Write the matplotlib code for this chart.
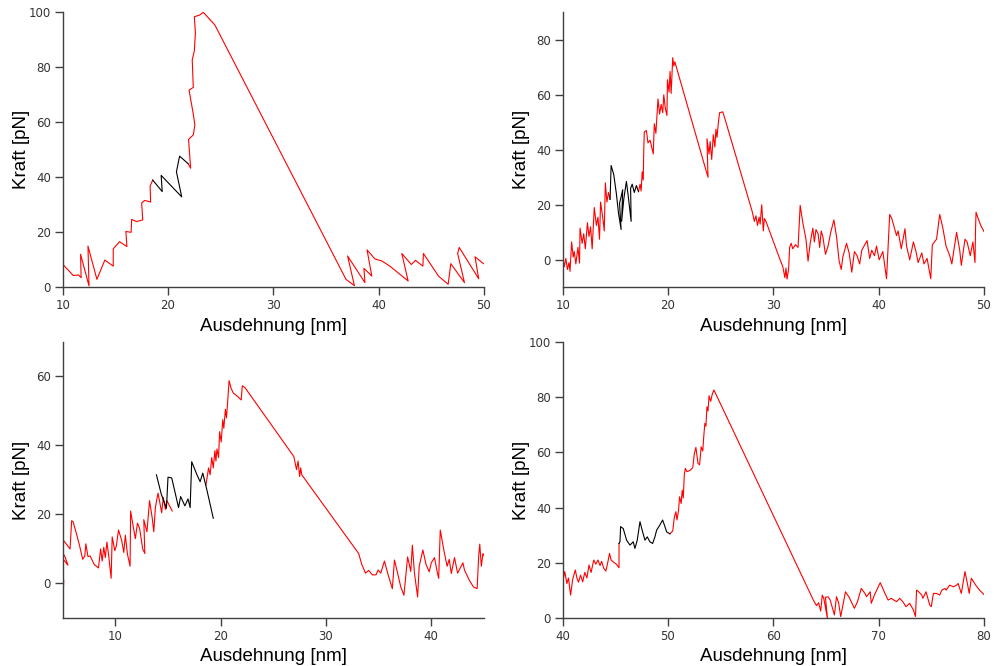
import matplotlib
matplotlib.use("Agg")
import matplotlib.pyplot as plt

# --- panel 1 (oben links) ---
p1_red1_x = [10.0, 11.0, 11.5, 11.75, 11.7, 12.5, 12.4, 13.25, 14.0, 14.8, 14.8, 15.4, 16.1, 16.0, 16.5, 16.55,
             17.0, 17.6, 17.5, 17.8, 18.35, 18.3, 18.55]
p1_red1_y = [8.4, 4.3, 4.5, 3.5, 12.0, 0.5, 15.0, 2.9, 9.9, 7.7, 14.0, 16.6, 14.8, 20.3, 20.0, 24.7,
             23.9, 24.5, 30.7, 31.6, 31.0, 36.8, 39.0]
p1_blk_x = [18.55, 19.45, 19.35, 21.3, 20.8, 21.1, 21.9]
p1_blk_y = [39.0, 34.8, 40.7, 32.9, 42.0, 47.7, 45.0]
p1_red2_x = [21.9, 22.15, 21.95, 22.4, 22.55, 22.4, 22.0, 22.4, 22.3, 22.5, 22.6, 22.5, 23.0, 23.35, 24.45,
             36.9, 37.7, 37.05, 38.7, 38.6, 39.35, 38.9, 39.65, 40.3, 41.1, 42.8, 42.2, 43.1, 43.5, 44.2,
             44.25, 45.7, 46.6, 46.85, 48.15, 47.5, 47.65, 49.5, 49.15, 49.95]
p1_red2_y = [45.0, 43.3, 53.8, 55.4, 59.0, 63.0, 71.7, 72.7, 82.7, 86.0, 92.5, 98.4, 99.0, 100.0, 95.4,
             2.9, 0.6, 11.4, 1.7, 6.9, 4.1, 13.6, 10.3, 9.6, 7.6, 2.3, 12.3, 8.3, 9.8, 7.7,
             12.3, 4.0, 1.1, 8.6, 1.7, 12.3, 14.5, 3.1, 11.1, 8.6]

# --- panel 2 (oben rechts) ---
p2_red1_x = [10.0, 10.15, 10.3, 10.45, 10.6, 10.7, 10.85, 11.0, 11.1, 11.25, 11.45, 11.6, 11.65, 11.85, 12.0,
             12.15, 12.35, 12.5, 12.65, 12.8, 13.0, 13.2, 13.35, 13.5, 13.6, 13.8, 13.95, 14.05, 14.2, 14.35,
             14.5]
p2_red1_y = [1.0, -2.5, 0.5, -3.5, -1.0, -4.2, 6.5, 1.0, 3.0, -1.5, 4.5, -1.2, 11.5, 6.0, 9.5,
             4.0, 13.5, 8.5, 12.0, 4.0, 19.0, 12.5, 15.5, 7.5, 21.0, 15.5, 10.5, 28.0, 21.0, 24.5,
             22.0]
p2_blk_x = [14.5, 14.6, 14.85, 15.1, 15.3, 15.55, 15.4, 15.7, 15.6, 15.8, 16.05, 16.2, 16.5, 16.45, 16.6,
            16.8, 17.0, 17.2]
p2_blk_y = [22.0, 34.3, 31.0, 24.0, 17.0, 11.0, 20.5, 25.5, 14.0, 22.0, 28.5, 24.0, 14.0, 26.0, 27.5,
            24.5, 27.0, 24.8]
p2_red2_x = [17.2, 17.35, 17.45, 17.55, 17.65, 17.7, 17.75, 17.95, 18.1, 18.3, 18.6, 18.7, 18.85, 19.05, 19.2,
             19.35, 19.5, 19.6, 19.75, 19.9, 19.95, 20.1, 20.2, 20.3, 20.45, 20.55, 20.65,
             23.8, 23.7, 23.9, 24.0, 24.15, 24.3, 24.45, 24.55, 24.65, 24.8, 24.9, 25.2, 25.35,
             28.0, 28.2, 28.35, 28.5, 28.65, 28.75, 28.9, 29.05, 29.15, 29.3,
             30.5, 30.9, 31.1, 31.2, 31.3, 31.45, 31.55, 31.7, 31.85, 32.1, 32.35, 32.55, 32.8, 33.1, 33.3,
             33.5, 33.75, 33.9, 34.05, 34.25, 34.4, 34.55, 34.7, 34.95, 35.2, 35.45, 35.75, 36.0, 36.25,
             36.45, 36.6, 36.95, 37.2, 37.45, 37.7, 37.95, 38.2, 38.4, 38.9, 39.15, 39.35, 39.6, 39.8,
             40.05, 40.4, 40.75, 41.05, 41.25, 41.7, 41.85, 42.15, 42.5, 42.65, 42.95, 43.3, 43.55, 43.75,
             44.1, 44.3, 44.6, 44.95, 45.1, 45.5, 45.8, 46.1, 46.4, 46.75, 46.95, 47.4, 47.7, 47.85, 48.2,
             48.4, 48.7, 48.95, 49.15, 49.2, 49.25, 49.45, 49.7, 50.0]
p2_red2_y = [24.8, 27.5, 25.0, 32.0, 29.0, 40.0, 46.5, 47.0, 42.5, 43.5, 38.5, 49.5, 46.0, 58.5, 53.0,
             56.5, 53.5, 60.0, 55.0, 52.5, 65.5, 61.0, 68.5, 60.5, 73.5, 70.5, 72.0,
             30.0, 44.0, 38.5, 43.0, 36.5, 45.5, 41.0, 47.5, 44.5, 50.5, 53.5, 53.8, 52.0,
             17.5, 14.0, 16.0, 12.5, 15.5, 13.0, 20.0, 10.5, 15.0, 14.0,
             1.5, -2.5, -6.5, -3.0, -7.0, -3.5, 4.5, 6.0, 4.0, 5.5, 4.5, 19.8, 13.5, 7.5, -0.5,
             6.0, 11.5, 6.5, 11.0, 9.5, 4.5, 10.5, 8.5, 2.0, 5.0, 10.0, 14.5, 8.5, -0.5,
             -3.5, 1.0, 6.0, 2.5, -4.5, 3.0, 1.5, -1.5, 3.5, 7.0, 0.5, 3.5, 1.5, 5.0,
             0.0, 3.0, -6.9, 16.5, 15.0, 8.8, 10.5, 4.0, 11.3, 5.0, 0.0, 6.5, 3.0, -1.0,
             2.5, -1.5, 0.5, -6.9, 5.5, 7.5, 16.5, 11.5, 5.0, 1.5, -1.5, 10.0, 3.5, -2.0, 7.5,
             6.5, 1.5, 6.5, -1.0, 11.0, 17.3, 15.0, 12.5, 10.3]

# --- panel 3 (unten links) ---
p3_red1_x = [4.8, 5.05, 5.1, 4.9, 5.0, 5.25, 5.5, 4.8, 5.0, 5.5, 5.7, 5.85, 6.0, 6.3, 6.6, 6.9, 7.1, 7.2, 7.4,
             7.6, 8.0, 8.4, 8.6, 8.75, 8.9, 9.05, 9.2, 9.35, 9.6, 9.7, 9.95, 10.1, 10.3, 10.6, 10.8, 10.95,
             11.15, 11.4, 11.45, 11.7, 11.9, 12.1, 12.3, 12.6, 12.8, 12.7, 13.0, 13.25, 13.5, 13.65, 13.8,
             14.05, 14.25, 14.4, 14.55, 14.75, 14.9, 15.4]
p3_red1_y = [5.0, -3.2, 0.8, 4.0, 9.0, 7.5, 5.3, 8.0, 12.8, 10.8, 10.0, 18.2, 17.8, 14.5, 11.0, 7.0, 8.0, 11.5, 7.8,
             8.0, 5.5, 4.5, 10.0, 6.5, 10.5, 7.5, 12.0, 8.5, 1.5, 13.5, 9.5, 11.0, 15.5, 12.5, 9.0, 14.0,
             8.5, 5.0, 21.0, 16.5, 13.0, 17.5, 16.0, 10.0, 8.7, 18.5, 15.0, 24.0, 19.0, 15.0, 22.0,
             26.2, 23.0, 20.5, 25.0, 21.5, 24.0, 21.0]
p3_blk_x = [13.9, 14.35, 14.85, 15.0, 15.35, 15.7, 16.0, 16.2, 16.6, 16.9, 17.1, 17.25, 17.75, 18.05, 18.3,
            18.5, 18.7, 19.3]
p3_blk_y = [31.5, 26.0, 21.8, 30.8, 30.6, 26.0, 22.0, 25.2, 22.5, 24.5, 22.0, 35.3, 31.5, 29.5, 32.0,
            29.5, 27.0, 18.9]
p3_red2_x = [18.6, 18.85, 19.0, 19.15, 19.3, 19.45, 19.55, 19.65, 19.8, 19.9, 20.05, 20.2, 20.3, 20.45, 20.55,
             20.65, 20.8, 21.0, 21.2, 21.5, 21.95, 22.05, 22.3,
             26.95, 27.2, 27.35, 27.5, 27.6, 27.7,
             33.1, 33.4, 33.75, 34.05, 34.4, 34.75, 34.95, 35.2, 35.55, 35.9, 36.3, 36.5, 36.8, 37.1, 37.4,
             37.75, 38.05, 38.2, 38.4, 38.7, 38.85, 39.2, 39.5, 39.8, 40.0, 40.3, 40.55, 40.7, 40.85, 41.2,
             41.5, 41.7, 41.9, 42.2, 42.5, 43.0, 43.15, 43.6, 44.0, 44.35, 44.5, 44.6, 44.75, 44.9, 45.1]
p3_red2_y = [28.5, 33.5, 31.5, 36.5, 33.5, 38.5, 35.5, 39.0, 36.5, 44.0, 41.0, 47.5, 45.0, 50.5, 48.0,
             52.0, 58.8, 56.5, 55.2, 54.5, 53.2, 57.3, 56.8,
             36.8, 33.0, 35.5, 31.0, 33.5, 31.5,
             8.7, 5.5, 3.0, 3.8, 2.5, 2.5, 3.9, 3.0, 6.5, 2.5, -1.5, 6.8, 3.0, -1.0, -3.4,
             7.7, 3.5, 11.1, 3.0, -3.9, 5.0, 9.7, 5.5, 3.4, 6.0, 7.5, 3.5, 1.5, 15.5, 9.5,
             5.0, 7.0, 2.9, 7.5, 3.0, 6.0, 3.9, 1.0, -1.0, -1.5, 8.0, 11.4, 5.0, 8.7, 7.5]

# --- panel 4 (unten rechts) ---
p4_red1_x = [40.0, 40.2, 40.4, 40.55, 40.75, 40.95, 41.2, 41.35, 41.5, 41.7, 41.9, 42.1, 42.3, 42.5, 42.7,
             42.95, 43.15, 43.35, 43.55, 43.7, 43.9, 44.1, 44.25, 44.45, 44.6, 44.9, 45.1, 45.35, 45.35]
p4_red1_y = [13.0, 16.8, 12.5, 14.5, 8.3, 14.0, 17.4, 14.5, 13.0, 15.5, 13.1, 16.5, 14.5, 19.2, 16.5,
             21.0, 19.5, 21.0, 19.0, 20.5, 18.0, 17.0, 19.5, 23.4, 21.0, 20.0, 19.5, 18.2, 27.0]
p4_blk_x = [45.35, 45.44, 45.5, 45.75, 46.07, 46.39, 46.7, 46.86, 47.08, 47.34, 47.59, 47.81, 48.03, 48.28,
            48.54, 48.76, 48.92, 49.23, 49.49, 49.71, 49.87, 50.18]
p4_blk_y = [27.0, 27.6, 33.1, 32.4, 28.2, 26.4, 27.6, 25.2, 28.2, 34.9, 31.2, 28.2, 29.4, 27.6,
            27.0, 29.4, 31.8, 33.7, 35.5, 33.1, 31.2, 30.5]
p4_red2_x = [50.18, 50.45, 50.6, 50.75, 50.85, 51.0, 51.1, 51.25, 51.35, 51.45, 51.55, 51.65, 51.8, 52.1, 52.35,
             52.5, 52.65, 52.85, 53.0, 53.15, 53.3, 53.4, 53.5, 53.6, 53.7, 53.8, 53.9, 54.05, 54.2, 54.35,
             54.5, 63.8, 64.1, 64.3, 64.5, 64.65, 64.8, 65.15, 64.95, 65.2, 65.4, 65.8, 66.0, 66.2, 66.4,
             66.85, 67.2, 67.7, 68.0, 68.35, 68.7, 68.85, 69.2, 69.3, 69.6, 70.15, 70.6, 70.9, 71.2, 71.7,
             72.0, 72.3, 72.6, 72.95, 73.3, 73.5, 73.6, 73.8, 74.1, 74.2, 74.5, 74.85, 75.0, 75.2, 75.5,
             75.8, 76.0, 76.3, 76.4, 76.75, 77.1, 77.4, 77.55, 77.85, 78.2, 78.45, 78.6, 78.8, 79.2, 79.6,
             80.0]
p4_red2_y = [30.5, 31.5, 36.5, 38.5, 35.5, 39.0, 43.9, 41.5, 46.3, 43.5, 52.0, 54.2, 53.0, 53.5, 54.5,
             59.5, 61.8, 56.0, 55.5, 62.0, 60.5, 66.0, 70.5, 69.5, 76.5, 75.0, 80.5, 78.5, 81.0, 82.6,
             81.5, 6.5, 4.5, 5.5, 2.5, 8.3, 7.0, -0.5, 7.5, 7.7, 6.5, 1.1, 7.7, 5.5, 0.5,
             9.5, 7.5, 3.5, 6.0, 10.7, 8.9, 7.7, 9.5, 5.3, 8.3, 12.8, 8.9, 6.5, 7.1, 5.9,
             7.1, 5.9, 4.1, 5.3, 2.9, 0.5, 10.1, 9.5, 8.3, 7.1, 9.5, 4.7, 4.1, 8.9, 8.9,
             8.3, 10.1, 10.7, 10.1, 11.9, 11.3, 11.9, 12.5, 8.9, 16.8, 12.0, 8.9, 14.4, 12.0, 10.0,
             8.5]

x_limits = [(10, 50), (10, 50), (5, 45), (40, 80)]
y_limits = [(0, 100), (-10, 90), (-10, 70), (0, 100)]
x_ticks = [[10, 20, 30, 40, 50], [10, 20, 30, 40, 50], [10, 20, 30, 40], [40, 50, 60, 70, 80]]
y_ticks = [[0, 20, 40, 60, 80, 100], [0, 20, 40, 60, 80], [0, 20, 40, 60], [0, 20, 40, 60, 80, 100]]
x_label = "Ausdehnung [nm]"
y_label = "Kraft [pN]"

RED = "#ff0000"
AXIS_COL = "#404040"
TICK_COL = "#333333"


def style_axis(ax, xlim, ylim, xt, yt):
    ax.set_xlim(*xlim)
    ax.set_ylim(*ylim)
    ax.set_xticks(xt)
    ax.set_yticks(yt)
    for side in ["top", "right"]:
        ax.spines[side].set_visible(False)
    for side in ["left", "bottom"]:
        ax.spines[side].set_color(AXIS_COL)
        ax.spines[side].set_linewidth(1.0)
    ax.tick_params(direction="out", length=5.5, width=1.0, color=AXIS_COL,
                   labelsize=8.5, labelcolor=TICK_COL, pad=3)
    ax.set_xlabel(x_label, fontsize=13.5, family="Liberation Sans")
    ax.set_ylabel(y_label, fontsize=13.5, family="Liberation Sans")
    ax.xaxis.set_label_coords(0.5, -0.11)
    ax.yaxis.set_label_coords(-0.078, 0.5)


def main():
    fig = plt.figure(figsize=(9.95, 6.66), dpi=100)
    boxes = [[0.0630, 0.5686, 0.4234, 0.4129],
             [0.5655, 0.5686, 0.4234, 0.4129],
             [0.0630, 0.0721, 0.4234, 0.4144],
             [0.5655, 0.0721, 0.4234, 0.4144]]
    panels = [
        (p1_red1_x, p1_red1_y, p1_blk_x, p1_blk_y, p1_red2_x, p1_red2_y),
        (p2_red1_x, p2_red1_y, p2_blk_x, p2_blk_y, p2_red2_x, p2_red2_y),
        (p3_red1_x, p3_red1_y, p3_blk_x, p3_blk_y, p3_red2_x, p3_red2_y),
        (p4_red1_x, p4_red1_y, p4_blk_x, p4_blk_y, p4_red2_x, p4_red2_y),
    ]
    for i, (box, p) in enumerate(zip(boxes, panels)):
        ax = fig.add_axes(box)
        rx1, ry1, bx, by, rx2, ry2 = p
        ax.plot(rx1, ry1, color=RED, lw=0.8)
        ax.plot(rx2, ry2, color=RED, lw=0.8)
        ax.plot(bx, by, color="black", lw=0.8)
        style_axis(ax, x_limits[i], y_limits[i], x_ticks[i], y_ticks[i])

    fig.savefig("out.png", dpi=100)


if __name__ == "__main__":
    main()
